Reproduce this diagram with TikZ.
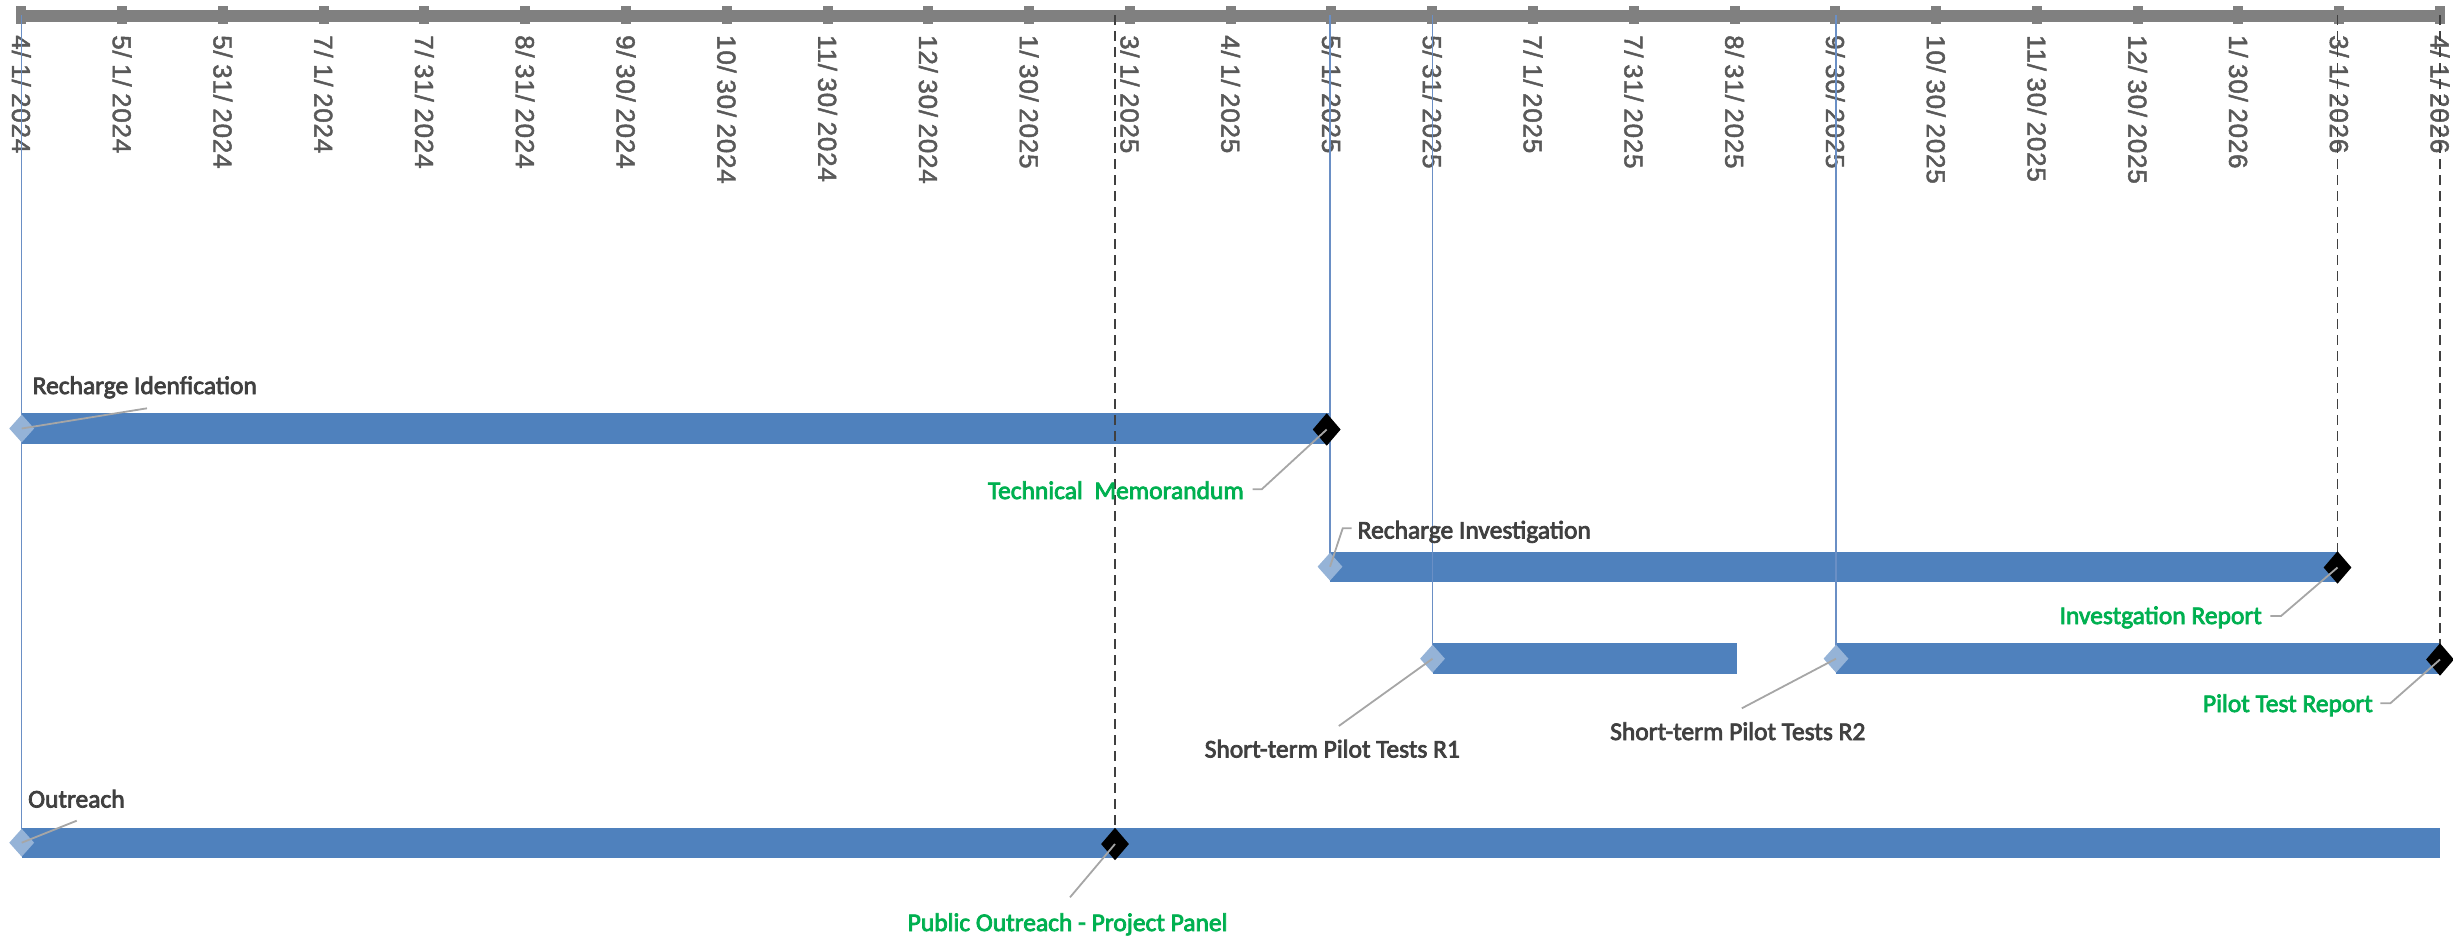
\documentclass[tikz,border=0pt]{standalone}
\usepackage{fontspec}
\setmainfont{Carlito}
\newfontfamily\labfont[FakeBold=3]{Carlito}
\newfontfamily\axisfont[FakeBold=1.8,LetterSpace=3]{Liberation Sans}
\usetikzlibrary{shapes.geometric}
\definecolor{barblue}{HTML}{4F81BD}
\definecolor{lightdia}{HTML}{95B3D7}
\definecolor{axisgray}{HTML}{808080}
\definecolor{axistext}{HTML}{595959}
\definecolor{labelgray}{HTML}{404040}
\definecolor{msgreen}{HTML}{00B050}
\definecolor{leadergray}{HTML}{A6A6A6}
\definecolor{dashgray}{HTML}{404040}
\definecolor{vlineblue}{HTML}{6A8FC5}
\begin{document}
\begin{tikzpicture}[x=1bp,y=-1bp,
  taskbar/.style={fill=barblue},
  startdia/.style={diamond,fill=lightdia,inner sep=0,minimum width=25bp,minimum height=28bp},
  enddia/.style={diamond,fill=black,inner sep=0,minimum width=28bp,minimum height=32.6bp},
  leader/.style={draw=leadergray,line width=1.8bp},
  datelink/.style={draw=vlineblue,line width=1.3bp},
  msline/.style={draw=dashgray,line width=1.8bp,dash pattern=on 10bp off 6bp},
  tasklabel/.style={text=labelgray,font=\labfont\fontsize{25.5bp}{30bp}\selectfont,inner sep=0},
  mslabel/.style={text=msgreen,font=\labfont\fontsize{25.5bp}{30bp}\selectfont,inner sep=0},
  axislabel/.style={text=axistext,font=\axisfont\fontsize{26bp}{30bp}\selectfont,rotate=-90,anchor=base west,inner sep=0}]
\useasboundingbox (0,0) rectangle (2453,939);
% axis
\fill[axisgray] (16,9.5) rectangle (2445,22);
\foreach \i in {0,...,24}{
  \fill[axisgray] ({21.3+\i*100.779-5},5.7) rectangle ({21.3+\i*100.779+5},24.3);
}
\foreach \i/\m/\d/\y in {0/4/1/2024,1/5/1/2024,2/5/31/2024,3/7/1/2024,4/7/31/2024,5/8/31/2024,6/9/30/2024,7/10/30/2024,8/11/30/2024,9/12/30/2024,10/1/30/2025,11/3/1/2025,12/4/1/2025,13/5/1/2025,14/5/31/2025,15/7/1/2025,16/7/31/2025,17/8/31/2025,18/9/30/2025,19/10/30/2025,20/11/30/2025,21/12/30/2025,22/1/30/2026,23/3/1/2026,24/4/1/2026}{
  \node[axislabel] (lab\i) at ({21.3+\i*100.779-9.3},35) {\m/\kern6.5bp\d/\kern6.5bp\y};
}
% coordinates on axis
\coordinate (a0) at (21.7,15);
\coordinate (a13) at (1330,15);
\coordinate (a14) at (1432.5,15);
\coordinate (a18) at (1836,15);
\coordinate (am1) at (1115,15);
\coordinate (am3) at (2337.5,15);
\coordinate (am4) at (2440,15);
% milestone / start positions
\coordinate (p1) at (21.7,428.5);
\coordinate (q1) at (1326.7,429.5);
\coordinate (p2) at (1330,566.7);
\coordinate (q2) at (2337.5,567.5);
\coordinate (p3) at (1432.5,658.7);
\coordinate (p4) at (1836,658.7);
\coordinate (q4) at (2440,659.5);
\coordinate (p5) at (21.7,842.7);
\coordinate (q5) at (1115,844);
% bars
\fill[taskbar] (21.7,413) rectangle (1329,444);
\fill[taskbar] (1330,551.7) rectangle (2338,581.7);
\fill[taskbar] (1432.5,643.3) rectangle (1737,674);
\fill[taskbar] (1836,643.3) rectangle (2440,674);
\fill[taskbar] (21.7,827.7) rectangle (2440,857.7);
% vertical lines
\draw[msline] (am1) -- (q5);
\draw[msline] (am3) -- (q2);
\draw[msline] (am4) -- (q4);
\draw[datelink] (a0) -- (p5);
\draw[datelink] (a13) -- (p2);
\draw[datelink] (a14) -- (p3);
\draw[datelink] (a18) -- (p4);
% diamonds
\node[startdia] (s1) at (p1) {};
\node[enddia] (e1) at (q1) {};
\node[startdia] (s2) at (p2) {};
\node[enddia] (e2) at (q2) {};
\node[startdia] (s3) at (p3) {};
\node[startdia] (s4) at (p4) {};
\node[enddia] (e4) at (q4) {};
\node[startdia] (s5) at (p5) {};
\node[enddia] (e5) at (q5) {};
% leader ends
\coordinate (l1) at (147,408.3);
\coordinate (l2a) at (1261.7,489.3);
\coordinate (l2b) at (1252.7,489.3);
\coordinate (l3a) at (1342.7,528.3);
\coordinate (l3b) at (1351.7,528.3);
\coordinate (l4a) at (2281,616);
\coordinate (l4b) at (2270.4,616);
\coordinate (l5a) at (2390.3,703.3);
\coordinate (l5b) at (2380.4,703.3);
\coordinate (l6) at (1338.8,726);
\coordinate (l7) at (1741.8,708.3);
\coordinate (l8) at (1070,897.3);
\coordinate (l9) at (76.7,820.7);
\draw[leader] (s1.center) -- (l1);
\draw[leader] (e1.center) -- (l2a) -- (l2b);
\draw[leader] (s2.center) -- (l3a) -- (l3b);
\draw[leader] (e2.center) -- (l4a) -- (l4b);
\draw[leader] (e4.center) -- (l5a) -- (l5b);
\draw[leader] (s3.center) -- (l6);
\draw[leader] (s4.center) -- (l7);
\draw[leader] (e5.center) -- (l8);
\draw[leader] (s5.center) -- (l9);
% labels
\node[tasklabel,anchor=base west] (t1) at (32.5,394) {Recharge Idenfication};
\node[mslabel,anchor=base east] (m1) at (1244,499) {Technical~ Memorandum};
\node[tasklabel,anchor=base west] (t2) at (1357.5,538.5) {Recharge Investigation};
\node[mslabel,anchor=base east] (m2) at (2262,624) {Investgation Report};
\node[mslabel,anchor=base east] (m3) at (2373,712) {Pilot Test Report};
\node[tasklabel,anchor=base west] (t3) at (1204.5,757.5) {Short-term Pilot Tests R1};
\node[tasklabel,anchor=base west] (t4) at (1610,740) {Short-term Pilot Tests R2};
\node[mslabel,anchor=base west] (m4) at (907.5,931) {Public Outreach - Project Panel};
\node[tasklabel,anchor=base west] (t5) at (28,807.5) {Outreach};
\end{tikzpicture}
\end{document}
